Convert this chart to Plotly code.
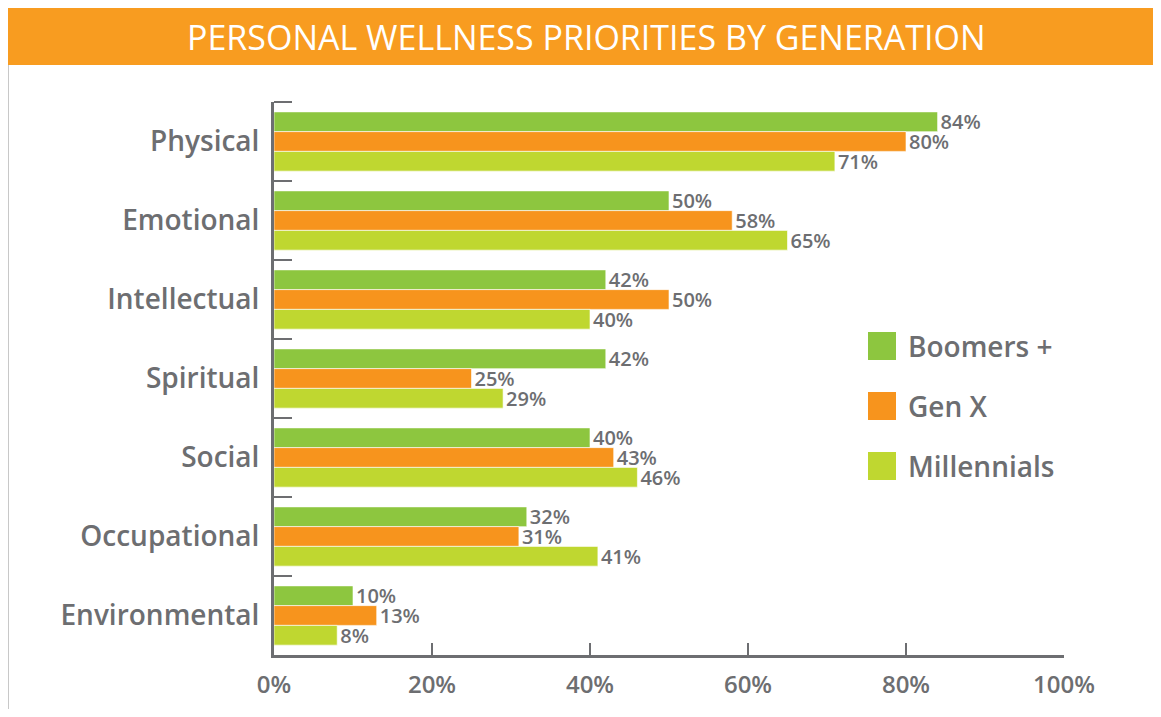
import plotly.graph_objects as go

categories = ["Physical", "Emotional", "Intellectual", "Spiritual", "Social", "Occupational", "Environmental"]
series_names = ["Boomers +", "Gen X", "Millennials"]
boomers = [84, 50, 42, 42, 40, 32, 10]
genx = [80, 58, 50, 25, 43, 31, 13]
millennials = [71, 65, 40, 29, 46, 41, 8]
series_values = [boomers, genx, millennials]
colors = ["#8dc63f", "#f7941d", "#bfd730"]
x_ticks = [0, 20, 40, 60, 80, 100]
x_tick_labels = ["0%", "20%", "40%", "60%", "80%", "100%"]
title_text = "PERSONAL WELLNESS PRIORITIES BY GENERATION"

GREY = "#6d6e71"
FONT = "Open Sans"

fig = go.Figure()
for name, vals, col in zip(series_names, series_values, colors):
    fig.add_trace(go.Bar(
        y=categories, x=vals, name=name, orientation="h",
        marker=dict(color=col, line=dict(color="white", width=0.6)),
        text=[f"{v}%" for v in vals], textposition="outside",
        textfont=dict(family=FONT, size=20, color=GREY, weight=600),
        constraintext="none",
        cliponaxis=False, showlegend=False,
    ))

# page body has an 8px margin; work in figure pixel coordinates
W, H = 1153, 701
ml, mr, mt, mb = 266, 97, 94, 54

fig.update_layout(
    width=W, height=H,
    margin=dict(l=ml, r=mr, t=mt, b=mb, autoexpand=False),
    paper_bgcolor="white", plot_bgcolor="white",
    barmode="group", bargap=0.25, bargroupgap=0,
    font=dict(family=FONT, color=GREY),
    xaxis=dict(range=[0, 100], tickvals=x_ticks, ticktext=x_tick_labels,
               showgrid=False, zeroline=False, showline=True, linecolor=GREY, linewidth=3,
               ticks="inside", ticklen=12, tickwidth=2, tickcolor=GREY,
               tickfont=dict(family=FONT, size=24, color=GREY, weight=600), ticklabelstandoff=6),
    yaxis=dict(range=[6.5, -0.5], showgrid=False, zeroline=False, showline=True,
               linecolor=GREY, linewidth=3, ticks="inside", tickson="boundaries",
               ticklen=18, tickwidth=2, tickcolor=GREY,
               tickfont=dict(family=FONT, size=28, color=GREY, weight=600), ticklabelstandoff=6),
)

def px_x(p):
    return (p - ml) / (W - ml - mr)

def px_y(p):
    return 1 - (p - mt) / (H - mt - mb)

shapes = []
# title bar
shapes.append(dict(type="rect", xref="paper", yref="paper",
                   x0=px_x(0), x1=px_x(W), y0=px_y(57), y1=px_y(0),
                   fillcolor="#f89c20", line=dict(width=0), layer="above"))
# left border line
shapes.append(dict(type="line", xref="paper", yref="paper",
                   x0=px_x(0.5), x1=px_x(0.5), y0=px_y(57), y1=px_y(H),
                   line=dict(color="#c8c8c8", width=1)))
# top boundary tick on the category axis
shapes.append(dict(type="line", xref="paper", yref="paper",
                   x0=0, x1=px_x(ml + 18), y0=1, y1=1,
                   line=dict(color=GREY, width=2)))
annotations = [dict(text=title_text, xref="paper", yref="paper", x=px_x(578), y=px_y(29),
                    xanchor="center", yanchor="middle", showarrow=False,
                    font=dict(family=FONT, size=34, color="white", weight=500))]

# legend
leg_y = [338, 398, 458]
for name, col, ly in zip(series_names, colors, leg_y):
    shapes.append(dict(type="rect", xref="paper", yref="paper",
                       x0=px_x(860), x1=px_x(888), y0=px_y(ly + 14), y1=px_y(ly - 14),
                       fillcolor=col, line=dict(width=0)))
    annotations.append(dict(text=name, xref="paper", yref="paper", x=px_x(898), y=px_y(ly),
                            xanchor="left", yanchor="middle", showarrow=False,
                            font=dict(family=FONT, size=28, color=GREY, weight=600)))

fig.update_layout(shapes=shapes, annotations=annotations)
fig.write_html("out.html")
